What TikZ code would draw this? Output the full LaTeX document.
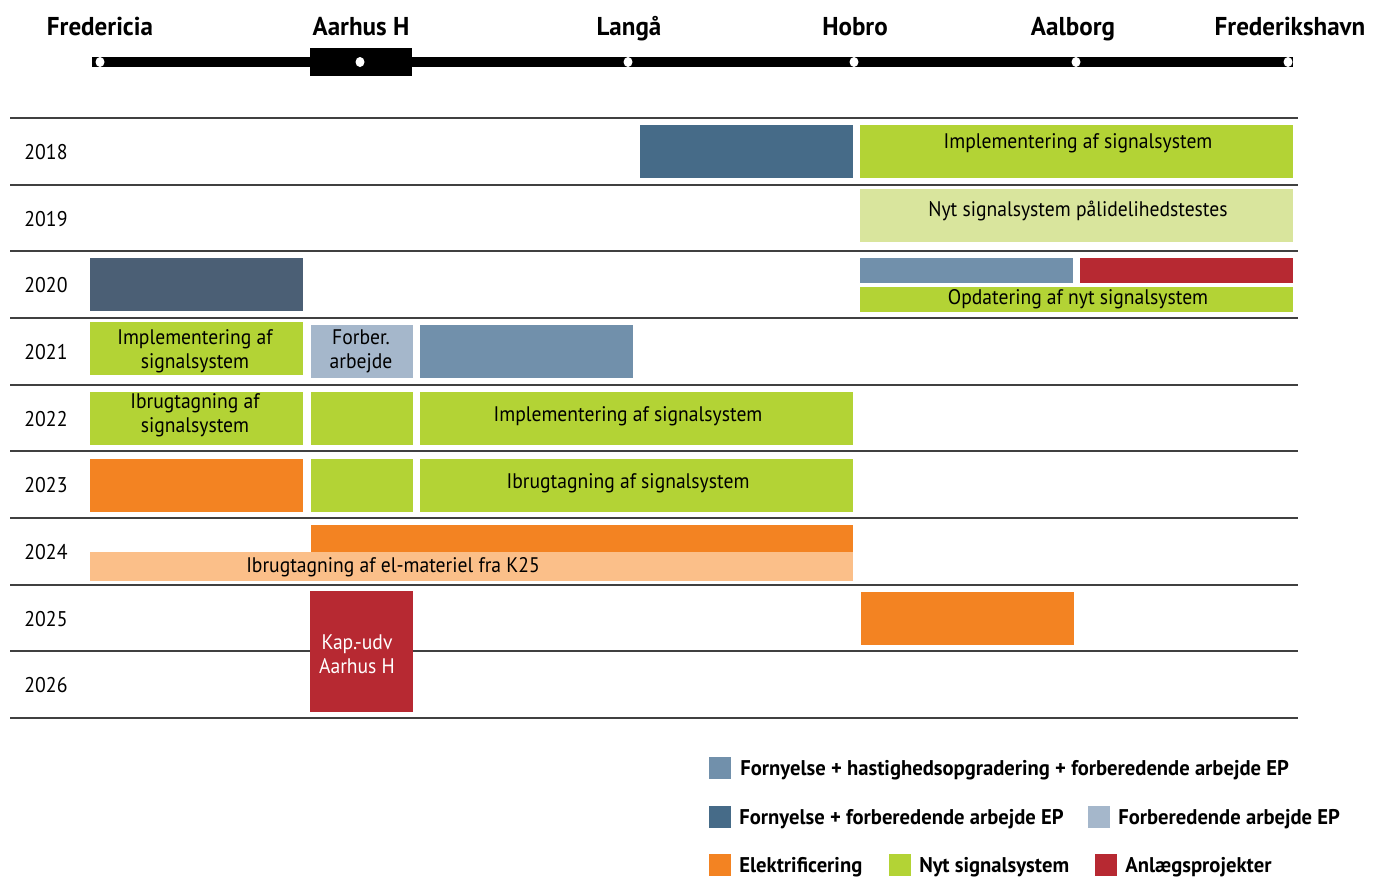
\documentclass[tikz,border=0pt]{standalone}
\usepackage{fontspec}
\setmainfont{PT Sans}[FakeStretch=0.93]
\newfontfamily\widefont{PT Sans}[FakeStretch=0.97]
\usetikzlibrary{positioning,shapes.geometric}
\definecolor{renewspeed}{HTML}{7190AB}
\definecolor{renewprep}{HTML}{466B88}
\definecolor{renewdark}{HTML}{4B5F75}
\definecolor{prepwork}{HTML}{A5B7CB}
\definecolor{electric}{HTML}{F38322}
\definecolor{electriclight}{HTML}{FBBF89}
\definecolor{signal}{HTML}{B3D335}
\definecolor{signallight}{HTML}{D9E59D}
\definecolor{construct}{HTML}{B72932}

\begin{document}
\begin{tikzpicture}[
  x=0.02cm, y=-0.02cm,
  bar/.style={inner sep=0pt, outer sep=0pt, anchor=north west},
  wh/.style 2 args={minimum width=#1*0.02cm, minimum height=#2*0.02cm},
  lbl/.style={inner sep=0pt, align=center, anchor=center,
    font=\fontsize{12}{13.6}\selectfont},
  year/.style={inner sep=0pt, font=\fontsize{12.1}{13.6}\selectfont},
  station/.style={inner sep=0pt, anchor=base, font=\widefont\bfseries\fontsize{14.7}{17}\selectfont},
  stop/.style={ellipse, fill=white, inner sep=0pt, minimum width=9*0.02cm,
    minimum height=10*0.02cm},
  key/.style={inner sep=0pt, outer sep=0pt, anchor=north west, wh={22}{22}},
  keytext/.style={inner sep=0pt, anchor=west, yshift=-1pt, font=\widefont\bfseries\fontsize{12.1}{14}\selectfont},
  rowline/.style={draw=black!75, line width=1.1pt}
]
\useasboundingbox[fill=white] (0,0) rectangle (1382,876);

% track
\fill[black] (92,57) rectangle (1293,67);
\fill[black] (310,48) rectangle (412,76);
\foreach \x/\tx/\name/\id in {100/100/Fredericia/fre, 360/361/Aarhus H/aar,
    628/629/Langå/lan, 854/855/Hobro/hob, 1076/1073/Aalborg/aal,
    1288/1290/Frederikshavn/frh} {
  \node[stop] (d\id) at (\x,62) {};
  \node[station] (\id) at (\tx,35) {\name};
}

% years
\foreach \y [count=\i from 0] in {2018,...,2026} {
  \draw[rowline] (10,{118+66.67*\i}) -- (1298,{118+66.67*\i});
  \node[year] (y\y) at (46,{152+66.67*\i}) {\y};
}
\draw[rowline] (10,718) -- (1298,718);

% bars
\node[bar, fill=renewprep, wh={213}{53}] (b18a) at (640,125) {};
\node[bar, fill=signal, wh={433}{53}] (b18b) at (860,125) {};
\node[lbl] (t18b) at (1078,143) {Implementering af signalsystem};

\node[bar, fill=signallight, wh={433}{53}] (b19) at (860,189) {};
\node[lbl] (t19) at (1078,211) {Nyt signalsystem pålidelihedstestes};

\node[bar, fill=renewdark, wh={213}{53}] (b20a) at (90,258) {};
\node[bar, fill=renewspeed, wh={213}{25}] (b20b) at (860,258) {};
\node[bar, fill=construct, wh={213}{25}] (b20c) at (1080,258) {};
\node[bar, fill=signal, wh={433}{25}] (b20d) at (860,287) {};
\node[lbl] (t20d) at (1078,299) {Opdatering af nyt signalsystem};

\node[bar, fill=signal, wh={213}{53}] (b21a) at (90,322) {};
\node[lbl] (t21a) at (195,351) {Implementering af\\signalsystem};
\node[bar, fill=prepwork, wh={102}{53}] (b21b) at (311,325) {};
\node[lbl] (t21b) at (361,351) {Forber.\\arbejde};
\node[bar, fill=renewspeed, wh={213}{53}] (b21c) at (420,325) {};

\node[bar, fill=signal, wh={213}{53}] (b22a) at (90,392) {};
\node[lbl] (t22a) at (195,415) {Ibrugtagning af\\signalsystem};
\node[bar, fill=signal, wh={102}{53}] (b22b) at (311,392) {};
\node[bar, fill=signal, wh={433}{53}] (b22c) at (420,392) {};
\node[lbl] (t22c) at (628,416) {Implementering af signalsystem};

\node[bar, fill=electric, wh={213}{53}] (b23a) at (90,459) {};
\node[bar, fill=signal, wh={102}{53}] (b23b) at (311,459) {};
\node[bar, fill=signal, wh={433}{53}] (b23c) at (420,459) {};
\node[lbl] (t23c) at (628,483) {Ibrugtagning af signalsystem};

\node[bar, fill=electric, wh={542}{27}] (b24a) at (311,525) {};
\node[bar, fill=electriclight, wh={763}{29}] (b24b) at (90,552) {};
\node[lbl] (t24b) at (393,567) {Ibrugtagning af el-materiel fra K25};

\node[bar, fill=electric, wh={213}{53}] (b25) at (861,592) {};
\node[bar, fill=construct, wh={103}{121}] (b26) at (310,591) {};
\node[lbl, text=white] (t26) at (357,654) {Kap.-udv\\Aarhus H};

% legend
\node[key, fill=renewspeed] (k1) at (709,757) {};
\node[keytext, right=9*0.02cm of k1] (l1) {Fornyelse + hastighedsopgradering + forberedende arbejde EP};
\node[key, fill=renewprep] (k2) at (709,806) {};
\node[keytext, right=8*0.02cm of k2] (l2) {Fornyelse + forberedende arbejde EP};
\node[key, fill=prepwork] (k3) at (1088,806) {};
\node[keytext, right=8*0.02cm of k3] (l3) {Forberedende arbejde EP};
\node[key, fill=electric] (k4) at (709,854) {};
\node[keytext, right=8*0.02cm of k4] (l4) {Elektrificering};
\node[key, fill=signal] (k5) at (889,854) {};
\node[keytext, right=8*0.02cm of k5] (l5) {Nyt signalsystem};
\node[key, fill=construct] (k6) at (1095,854) {};
\node[keytext, right=8*0.02cm of k6] (l6) {Anlægsprojekter};
\end{tikzpicture}
\end{document}
